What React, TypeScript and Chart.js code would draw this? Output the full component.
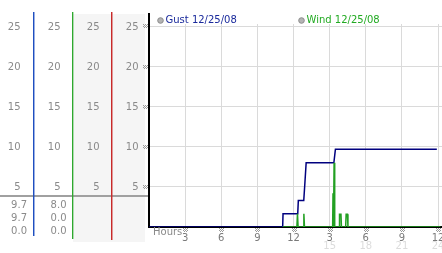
import React, { useEffect, useRef } from "react";
import { Chart, registerables } from "chart.js";

Chart.register(...registerables);

// ---- data ----
const X_TICKS = [0, 3, 6, 9, 12, 15, 18, 21, 24];
const HOUR_TICKS = [3, 6, 9, 12, 15, 18, 21, 24];
const HOUR_LABELS = ["3", "6", "9", "12", "3", "6", "9", "12"];
const HOUR_LABELS_2 = ["", "", "", "", "15", "18", "21", "24"];
const Y_TICKS = [5, 10, 15, 20, 25];

const GUST_X = [0, 11.1, 11.13, 12.35, 12.4, 12.85, 12.95, 13.05, 15.35, 15.48, 23.9];
const GUST_Y = [0, 0, 1.65, 1.65, 3.3, 3.3, 5.6, 8.0, 8.0, 9.7, 9.7];

const WIND_X = [11.1, 12.28, 12.33, 12.38, 12.81, 12.86, 12.91, 15.25, 15.28, 15.32, 15.37, 15.42, 15.78, 15.82, 15.94, 15.98, 16.33, 16.37, 16.48, 16.52, 24.2];
const WIND_Y = [0, 0, 1.65, 0, 0, 1.65, 0, 0, 4.2, 0, 8.0, 0, 0, 1.6, 1.6, 0, 0, 1.6, 1.6, 0, 0];

const GUST_READOUT = ["9.7", "9.7", "0.0"];
const WIND_READOUT = ["8.0", "0.0", "0.0"];
const LEGEND_LABELS = ["Gust 12/25/08", "Wind 12/25/08"];

const FONT = '"DejaVu Sans", Verdana, sans-serif';
const GUST_COLOR = "#00007f";
const WIND_COLOR = "#22a022";

function marker(ctx: CanvasRenderingContext2D, cx: number, cy: number) {
  ctx.fillStyle = "#9a9a9a";
  const pts = [
    [-2, -2], [0, -2], [2, -2],
    [-1, -1], [1, -1],
    [-2, 0], [0, 0], [2, 0],
    [-1, 1], [1, 1],
  ];
  for (const [dx, dy] of pts) ctx.fillRect(Math.round(cx) + dx, Math.round(cy) + dy, 1, 1);
}

const decor = {
  id: "decor",
  beforeDraw(chart: any) {
    const ctx = chart.ctx as CanvasRenderingContext2D;
    ctx.save();
    ctx.fillStyle = "#ffffff";
    ctx.fillRect(0, 0, chart.width, chart.height);
    ctx.fillStyle = "#f5f5f5";
    ctx.fillRect(73, 14, 72, 228);
    ctx.restore();
  },
  afterDraw(chart: any) {
    const ctx = chart.ctx as CanvasRenderingContext2D;
    const xs = chart.scales.x;
    const ys = chart.scales.y;
    const area = chart.chartArea;
    ctx.save();

    // separator
    ctx.fillStyle = "#a0a0a0";
    ctx.fillRect(0, 195, 148, 2);

    // column lines
    const cols: [number, string, string, number][] = [
      [33, "#1f4fc0", "rgba(31,79,192,0.45)", 236],
      [72, "#2ea82e", "rgba(46,168,46,0.35)", 239],
      [111, "#c82a2a", "rgba(200,42,42,0.45)", 240],
    ];
    for (const [x, c, c2, b] of cols) {
      ctx.fillStyle = c;
      ctx.fillRect(x, 12, 1, b - 12);
      ctx.fillStyle = c2;
      ctx.fillRect(x + 1, 12, 1, b - 12);
    }
    // left axis extension
    ctx.fillStyle = "#000";
    ctx.fillRect(area.left - 1, 13, 2, area.top - 12);

    // y tick labels
    ctx.font = `10px ${FONT}`;
    ctx.textBaseline = "middle";
    ctx.textAlign = "right";
    const rights = [20.5, 60.5, 99.5, 138.5];
    for (const v of Y_TICKS) {
      const py = ys.getPixelForValue(v);
      ctx.fillStyle = "#8a8a8a";
      for (const r of rights) ctx.fillText(String(v), r, py + 0.5);
      marker(ctx, 145, py);
    }

    // readouts
    ctx.fillStyle = "#8a8a8a";
    const rows = [205, 218.5, 231.5];
    GUST_READOUT.forEach((t, i) => ctx.fillText(t, 27, rows[i]));
    WIND_READOUT.forEach((t, i) => ctx.fillText(t, 66.5, rows[i]));

    // x labels
    ctx.textAlign = "center";
    HOUR_TICKS.forEach((h, i) => {
      const px = xs.getPixelForValue(h);
      marker(ctx, px, 230);
      ctx.fillStyle = "#7a7a7a";
      ctx.fillText(HOUR_LABELS[i], px, 238.5);
      if (HOUR_LABELS_2[i]) {
        ctx.fillStyle = "#dcdcdc";
        ctx.fillText(HOUR_LABELS_2[i], px, 246.5);
      }
    });
    ctx.textAlign = "left";
    ctx.fillStyle = "#8a8a8a";
    ctx.fillText("Hours", 153, 232.5);

    // legend
    const legend: [number, string][] = [
      [160.5, "#1a2a9c"],
      [301.5, "#22aa22"],
    ];
    LEGEND_LABELS.forEach((t, i) => {
      const [cx, col] = legend[i];
      ctx.beginPath();
      ctx.arc(cx, 20.5, 2.8, 0, Math.PI * 2);
      ctx.fillStyle = "#b4b4b4";
      ctx.fill();
      ctx.strokeStyle = "#8c8c8c";
      ctx.lineWidth = 1;
      ctx.stroke();
      ctx.fillStyle = col;
      ctx.textAlign = "left";
      ctx.fillText(t, cx + 5, 20.5);
    });

    ctx.restore();
  },
};

export default function App() {
  const ref = useRef<HTMLCanvasElement | null>(null);
  useEffect(() => {
    document.body.style.margin = "0";
    if (!ref.current) return;
    const chart = new Chart(ref.current, {
      type: "line",
      data: {
        datasets: [
          {
            label: LEGEND_LABELS[1],
            data: WIND_X.map((x, i) => ({ x, y: WIND_Y[i] })),
            borderColor: WIND_COLOR,
            borderWidth: 1.5,
            pointRadius: 0,
            tension: 0,
          },
          {
            label: LEGEND_LABELS[0],
            data: GUST_X.map((x, i) => ({ x, y: GUST_Y[i] })),
            borderColor: GUST_COLOR,
            borderWidth: 1.5,
            pointRadius: 0,
            tension: 0,
          },
        ],
      },
      options: {
        animation: false,
        responsive: false,
        devicePixelRatio: 1,
        layout: { padding: { top: 24, left: 0, right: 0, bottom: 0 } },
        plugins: { legend: { display: false }, tooltip: { enabled: false } },
        scales: {
          x: {
            type: "linear",
            min: 0,
            max: 24.33,
            afterBuildTicks: (s: any) => {
              s.ticks = X_TICKS.map((v) => ({ value: v }));
            },
            afterFit: (s: any) => {
              s.height = 26;
            },
            ticks: { display: false },
            grid: { color: "#dadada", lineWidth: 1, drawTicks: false },
            border: { color: "#000", width: 2 },
          },
          y: {
            type: "linear",
            min: 0,
            max: 25.3,
            afterBuildTicks: (s: any) => {
              s.ticks = [0, ...Y_TICKS].map((v) => ({ value: v }));
            },
            afterFit: (s: any) => {
              s.width = 149;
            },
            ticks: { display: false },
            grid: { color: "#dadada", lineWidth: 1, drawTicks: false },
            border: { color: "#000", width: 2 },
          },
        },
      },
      plugins: [decor],
    });
    return () => chart.destroy();
  }, []);
  return (
    <div style={{ position: "absolute", left: 0, top: 0, width: 442, height: 253 }}>
      <canvas ref={ref} width={442} height={253} />
    </div>
  );
}
